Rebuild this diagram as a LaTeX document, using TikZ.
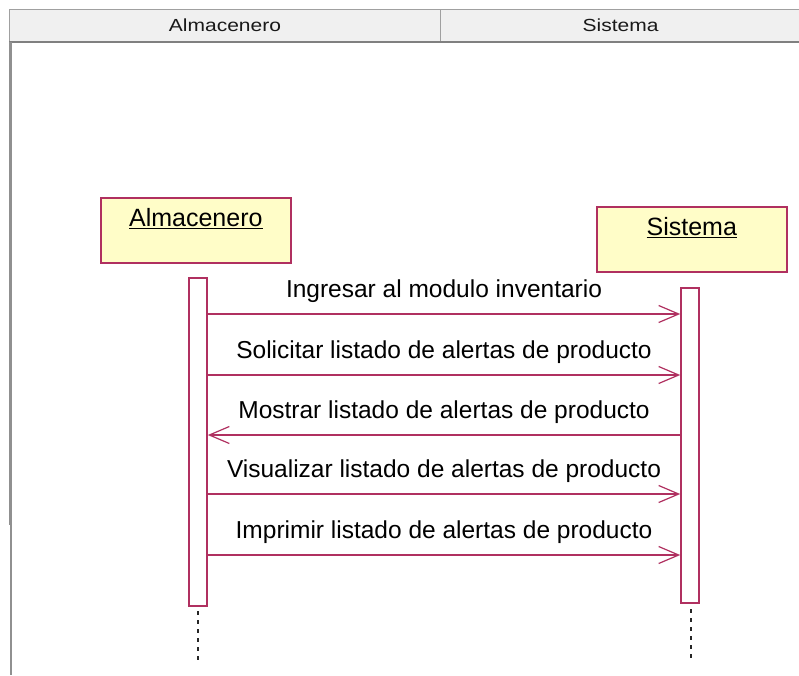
\documentclass[tikz,border=0pt]{standalone}
\usepackage{fontspec}
\setmainfont{Liberation Sans}
\newfontfamily\widefont[FakeStretch=1.2]{Liberation Sans}
\usetikzlibrary{arrows.meta}
\definecolor{umlred}{HTML}{B03060}
\definecolor{umlfill}{HTML}{FFFDC8}
\definecolor{hdrfill}{HTML}{F0F0F0}
\definecolor{hdrline}{HTML}{A0A0A0}
\tikzset{
  objbox/.style={draw=umlred, line width=1.6pt, fill=umlfill, minimum width=190pt, minimum height=65pt, inner sep=0pt},
  actbar/.style={draw=umlred, line width=1.6pt, fill=white, minimum width=18pt, inner sep=0pt},
  msg/.style={draw=umlred, line width=1.2pt, -{Straight Barb[length=20pt,width=17pt,line width=1.2pt]}},
  msgtext/.style={font=\fontsize{24.5}{28}\selectfont, text=black, inner sep=0pt},
  objtext/.style={font=\fontsize{25}{29}\selectfont, text=black, inner sep=0pt},
  lifeline/.style={draw=black!85, line width=2pt, dash pattern=on 4pt off 5pt},
  hdrtext/.style={font=\widefont\fontsize{17.5}{20}\selectfont, text=black!90, inner sep=0pt}
}
\begin{document}
\begin{tikzpicture}[x=1pt,y=-1pt]
\useasboundingbox (0,0) rectangle (799,675);
\fill[white] (0,0) rectangle (799,675);
% header
\node[draw=hdrline, fill=hdrfill, line width=1pt, minimum width=431pt, minimum height=32pt, inner sep=0pt, anchor=north west] (h1) at (9,9) {};
\node[draw=hdrline, fill=hdrfill, line width=1pt, minimum width=360pt, minimum height=32pt, inner sep=0pt, anchor=north west] (h2) at (440,9) {};
\node[hdrtext] at (h1.center) {Almacenero};
\node[hdrtext] at (h2.center) {Sistema};
\draw[hdrline!80!black, line width=2pt] (9,42) -- (799,42);
\draw[hdrline!90!black, line width=3pt] (10.5,42) -- (10.5,525);
\draw[hdrline!90!black, line width=1.5pt] (11,525) -- (11,675);
% objects
\node[objbox, anchor=north west] (oa) at (100,197) {};
\node[objtext, anchor=north] (oat) at ([yshift=-11pt]oa.north) {\underline{Almacenero}};
\node[objbox, anchor=north west] (os) at (596,206) {};
\node[objtext, anchor=north] (ost) at ([yshift=-11pt]os.north) {\underline{Sistema}};
% activation bars
\node[actbar, minimum height=328pt, anchor=north] (ba) at (198,277) {};
\node[actbar, minimum height=315pt, anchor=north] (bs) at (690,287) {};
% lifelines
\coordinate (la1) at (198,611);
\coordinate (la2) at (198,660);
\coordinate (ls1) at (691,609);
\coordinate (ls2) at (691,658);
\draw[lifeline] (la1) -- (la2);
\draw[lifeline] (ls1) -- (ls2);
% messages
\draw[msg] (ba.east |- 0,314) -- (bs.west |- 0,314);
\node[msgtext] at (444,291) {Ingresar al modulo inventario};
\draw[msg] (ba.east |- 0,375) -- (bs.west |- 0,375);
\node[msgtext] at (444,352) {Solicitar listado de alertas de producto};
\draw[msg] (bs.west |- 0,435) -- (ba.east |- 0,435);
\node[msgtext] at (444,412) {Mostrar listado de alertas de producto};
\draw[msg] (ba.east |- 0,494) -- (bs.west |- 0,494);
\node[msgtext] at (444,471) {Visualizar listado de alertas de producto};
\draw[msg] (ba.east |- 0,555) -- (bs.west |- 0,555);
\node[msgtext] at (444,532) {Imprimir listado de alertas de producto};
\end{tikzpicture}
\end{document}
